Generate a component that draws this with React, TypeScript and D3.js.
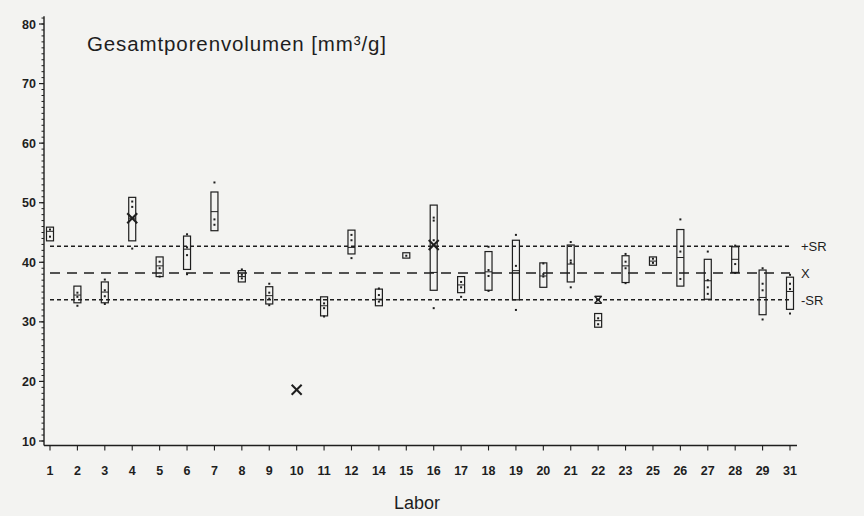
import React from 'react';
import * as d3 from 'd3';

// Labor numbers on the x axis (13, 24, 30 are missing in the original)
const labs = ['1','2','3','4','5','6','7','8','9','10','11','12','14','15','16','17','18','19','20','21','22','23','25','26','27','28','29','31'];

// box bottom / top / middle line per lab (null = no box)
const boxLow = [43.6, 33.2, 33.2, 43.6, 37.6, 38.8, 45.3, 36.7, 33.0, null, 31.0, 41.4, 32.7, 40.7, 35.3, 34.9, 35.3, 33.7, 35.8, 36.7, 29.1, 36.6, 39.5, 36.0, 33.8, 38.3, 31.2, 32.1];
const boxHigh = [45.9, 36.0, 36.7, 50.9, 40.9, 44.4, 51.8, 38.6, 35.9, null, 34.2, 45.4, 35.5, 41.6, 49.6, 37.6, 41.8, 43.7, 39.9, 42.9, 31.4, 41.1, 40.9, 45.5, 40.5, 42.6, 38.7, 37.5];
const boxMid = [45.2, 34.5, 35.0, 47.4, 39.4, 42.2, 48.5, 37.6, 34.4, null, 32.7, 42.5, 33.8, null, 38.3, 36.2, 38.4, 38.6, 37.7, 39.7, 30.2, 39.4, 40.2, 40.8, 36.9, 40.5, 34.1, 35.1];

// single measurements per lab
const singleValues: number[][] = [
  [44.3, 45.5],
  [34.9, 34.2, 32.7],
  [37.1, 35.3, 34.3, 33.0],
  [50.2, 49.3, 42.3],
  [40.1, 39.0, 37.6],
  [44.7, 42.5, 41.2, 38.0],
  [53.4, 47.2, 46.3],
  [38.8, 37.9, 37.3],
  [36.4, 34.9, 33.9, 32.8],
  [],
  [33.1, 32.3, 30.9],
  [44.6, 43.7, 40.7],
  [35.6, 34.5, 33.4],
  [41.1],
  [47.5, 47.0, 43.7, 32.3],
  [36.7, 35.8, 34.2],
  [42.6, 38.7, 37.7, 35.2],
  [44.6, 39.4, 32.0],
  [39.8, 38.0, 37.6],
  [43.4, 40.3, 39.9, 35.8],
  [30.6, 29.6],
  [41.4, 40.1, 39.0, 36.5],
  [40.6, 39.9],
  [47.2, 41.8, 37.2],
  [41.8, 37.0, 35.8, 34.7],
  [42.8, 39.7, 38.2],
  [39.0, 36.4, 35.3, 30.4],
  [37.9, 36.4, 35.5, 31.4],
];

// crossed markers (lab, value, kind)
const markerLabs = ['4', '10', '16', '22'];
const markerValues = [47.4, 18.6, 42.9, 33.7];
const markerKinds = ['x', 'x', 'x', 'hourglass'];

// reference lines
const refNames = ['+SR', 'X', '-SR'];
const refValues = [42.7, 38.2, 33.7];
const refDashes = ['4,3', '10,7', '4,3'];

const yTicks = [10, 20, 30, 40, 50, 60, 70, 80];

const W = 864;
const H = 516;

const App: React.FC = () => {
  const x = d3.scalePoint<string>().domain(labs).range([50, 790]);
  const y = d3.scaleLinear().domain([10, 80]).range([441, 24]);
  const minor = d3.range(10, 82, 1);
  const axisY = y(9.25);
  const axisX = 44;
  const font = '"Liberation Sans", Arial, Helvetica, sans-serif';
  const ink = '#1e1e1e';
  const bw = 7;

  return (
    <svg width={W} height={H} style={{ position: 'absolute', left: 0, top: 0, display: 'block' }} fontFamily={font}>
      <rect width={W} height={H} fill="#f3f3f1" />

      {/* title */}
      <text x={87} y={51} fontSize={20.5} fill={ink} textLength={299} lengthAdjust="spacing">Gesamtporenvolumen [mm³/g]</text>

      {/* y axis */}
      <line x1={axisX} x2={axisX} y1={y(81.3)} y2={axisY} stroke={ink} strokeWidth={1.4} />
      {minor.map(v => (
        <line key={'m' + v} x1={axisX - 2.5} x2={axisX} y1={y(v)} y2={y(v)} stroke={ink} strokeWidth={1} />
      ))}
      {yTicks.map(v => (
        <g key={'t' + v}>
          <line x1={axisX - 5} x2={axisX} y1={y(v)} y2={y(v)} stroke={ink} strokeWidth={1.2} />
          <text x={36} y={y(v) + 4.5} fontSize={12.5} fontWeight="bold" textAnchor="end" fill={ink}>{v}</text>
        </g>
      ))}

      {/* x axis */}
      <line x1={axisX} x2={797} y1={axisY} y2={axisY} stroke={ink} strokeWidth={1.4} />
      {labs.map(l => (
        <g key={'x' + l}>
          <line x1={x(l)} x2={x(l)} y1={axisY} y2={axisY + 5} stroke={ink} strokeWidth={1.1} />
          <text x={x(l)} y={475} fontSize={12.5} fontWeight="bold" textAnchor="middle" fill={ink}>{l}</text>
        </g>
      ))}
      <text x={417} y={509} fontSize={18} textAnchor="middle" fill={ink}>Labor</text>

      {/* reference lines */}
      {refNames.map((n, i) => (
        <g key={'r' + n}>
          <line x1={x('1')} x2={x('31')} y1={y(refValues[i])} y2={y(refValues[i])}
            stroke={ink} strokeWidth={1.4} strokeDasharray={refDashes[i]} />
          <text x={801} y={y(refValues[i]) + 5} fontSize={13} fill={ink}>{n}</text>
        </g>
      ))}

      {/* boxes */}
      {labs.map((l, i) => {
        const cx = x(l) as number;
        const lo = boxLow[i];
        const hi = boxHigh[i];
        const mid = boxMid[i];
        return (
          <g key={'b' + l}>
            {lo != null && hi != null && (
              <rect x={cx - bw / 2} y={y(hi)} width={bw} height={y(lo) - y(hi)}
                fill="none" stroke={ink} strokeWidth={1.2} />
            )}
            {mid != null && (
              <line x1={cx - bw / 2} x2={cx + bw / 2} y1={y(mid)} y2={y(mid)} stroke={ink} strokeWidth={1} />
            )}
            {singleValues[i].map((v, j) => (
              <rect key={j} x={cx - 1} y={y(v) - 1} width={2} height={2} fill={ink} />
            ))}
          </g>
        );
      })}

      {/* markers */}
      {markerLabs.map((l, i) => {
        const cx = x(l) as number;
        const cy = y(markerValues[i]);
        const s = markerKinds[i] === 'x' ? 5 : 3.5;
        return (
          <g key={'k' + l} stroke={ink} strokeWidth={markerKinds[i] === 'x' ? 2 : 1.4}>
            <line x1={cx - s} y1={cy - s} x2={cx + s} y2={cy + s} />
            <line x1={cx - s} y1={cy + s} x2={cx + s} y2={cy - s} />
            {markerKinds[i] === 'hourglass' && (
              <>
                <line x1={cx - s} y1={cy - s} x2={cx + s} y2={cy - s} />
                <line x1={cx - s} y1={cy + s} x2={cx + s} y2={cy + s} />
              </>
            )}
          </g>
        );
      })}
    </svg>
  );
};

export default App;
